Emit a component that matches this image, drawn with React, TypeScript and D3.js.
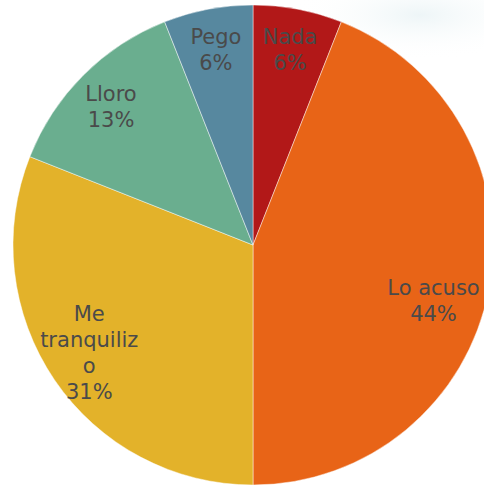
import React from "react";
import * as d3 from "d3";

const categories = ["Nada", "Lo acuso", "Me tranquilizo", "Lloro", "Pego"];
const values = [6, 44, 31, 13, 6];
const percentLabels = ["6%", "44%", "31%", "13%", "6%"];
const colors = ["#b21818", "#e86417", "#e3b22a", "#6aae8f", "#57889f"];
const wrappedNames: Record<string, string[]> = {
  "Me tranquilizo": ["Me", "tranquiliz", "o"],
};

const W = 484;
const H = 486;
const cx = 253;
const cy = 245;
const R = 240;
const labelR = 198;
const nudges: Record<string, [number, number]> = {
  "Lo acuso": [-14, 20],
  "Lloro": [-2, 3],
  "Me tranquilizo": [0, -2],
};

export default function App() {
  const pie = d3.pie<number>().sort(null).value((d) => d);
  const arcs = pie(values);
  const arcGen = d3.arc<d3.PieArcDatum<number>>().innerRadius(0).outerRadius(R);
  const lineH = 26;
  return (
    <svg
      width={W}
      height={H}
      style={{ position: "absolute", left: 0, top: 0 }}
      fontFamily="'DejaVu Sans', sans-serif"
    >
      <defs>
        <radialGradient id="glow" cx="0.5" cy="0.5" r="0.5">
          <stop offset="0%" stopColor="#e9f3f5" stopOpacity={0.8} />
          <stop offset="100%" stopColor="#ffffff" stopOpacity={0} />
        </radialGradient>
      </defs>
      <rect width={W} height={H} fill="#ffffff" />
      <ellipse cx={420} cy={15} rx={130} ry={45} fill="url(#glow)" />
      <g transform={`translate(${cx},${cy})`}>
        {arcs.map((a, i) => (
          <path
            key={categories[i]}
            d={arcGen(a) || ""}
            fill={colors[i]}
            stroke="#ffffff"
            strokeOpacity={0.45}
            strokeWidth={1}
          />
        ))}
        {arcs.map((a, i) => {
          const mid = (a.startAngle + a.endAngle) / 2;
          const nd = nudges[categories[i]] || [0, 0];
          const x = Math.sin(mid) * labelR + nd[0];
          const y = -Math.cos(mid) * labelR + nd[1];
          const lines = [...(wrappedNames[categories[i]] || [categories[i]]), percentLabels[i]];
          const y0 = y - ((lines.length - 1) * lineH) / 2;
          return (
            <text
              key={"l" + categories[i]}
              x={x}
              y={y0}
              textAnchor="middle"
              dominantBaseline="middle"
              fontSize={21}
              fill="#4a4a4a"
            >
              {lines.map((ln, k) => (
                <tspan key={k} x={x} y={y0 + k * lineH}>
                  {ln}
                </tspan>
              ))}
            </text>
          );
        })}
      </g>
    </svg>
  );
}
